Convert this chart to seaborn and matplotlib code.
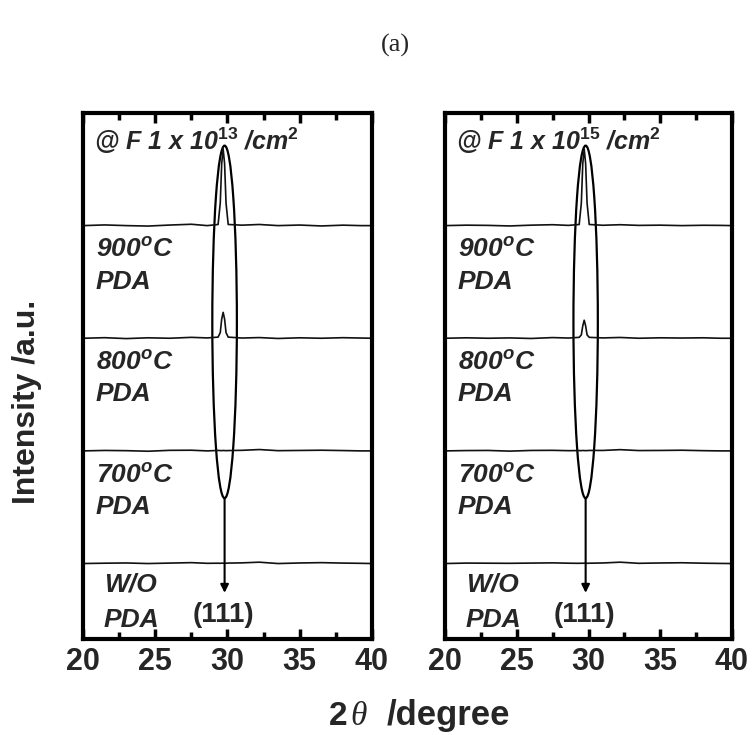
import numpy as np
import pandas as pd
import matplotlib
matplotlib.use("Agg")
import matplotlib.pyplot as plt
import seaborn as sns
from matplotlib.patches import Ellipse
from matplotlib.ticker import MultipleLocator

# ---------------- data ----------------
theta = [20, 21.5, 23, 24.5, 26, 27.5, 28.6, 29.35, 29.5, 29.6, 29.7, 29.8,
         29.9, 30.05, 31, 32.2, 33.5, 35, 36.5, 38, 39.2, 40]

samples = ["900", "800", "700", "W/O"]
sample_offsets = [3.67, 2.67, 1.67, 0.67]

# panel (a)-left : F 1x10^13 /cm^2
left_900 = [0, .006, 0, -.004, .005, .012, 0, .01, .2, .55, .68, .55, .2, .01, .004, .01, 0, .005, -.003, .004, 0, 0]
left_800 = [0, .005, -.003, .004, 0, .008, .003, .01, .05, .17, .23, .17, .05, .01, .002, .006, -.002, .004, 0, .005, .002, 0]
left_700 = [0, .004, .002, -.003, .005, .006, 0, .004, .003, .002, .004, .003, .002, .003, .005, .012, .002, .004, .006, .003, 0, 0]
left_wo = [0, .003, .005, 0, .004, .008, .002, .003, .002, .004, .003, .002, .003, .004, .006, .012, 0, .005, .008, .004, .002, 0]

# panel (a)-right : F 1x10^15 /cm^2
right_900 = [0, .004, .002, -.003, .004, .008, .002, .01, .2, .55, .68, .55, .2, .01, .003, .008, .002, .004, 0, .003, .002, 0]
right_800 = [0, .004, 0, .003, -.002, .006, .002, .008, .03, .11, .16, .11, .03, .008, .003, .007, 0, .004, .002, .004, 0, 0]
right_700 = [0, .003, .004, -.002, .004, .005, .002, .003, .002, .004, .003, .002, .003, .004, .004, .011, .003, .004, .006, .002, 0, 0]
right_wo = [0, .004, .003, .002, .004, .006, .003, .002, .003, .002, .004, .003, .002, .003, .005, .012, .002, .005, .007, .003, .001, 0]

panel_titles = [r"@ F 1 x 10$^{13}$ /cm$^{2}$", r"@ F 1 x 10$^{15}$ /cm$^{2}$"]
panel_series = [[left_900, left_800, left_700, left_wo],
                [right_900, right_800, right_700, right_wo]]
sample_labels = [("900$^{o}$C", "PDA"), ("800$^{o}$C", "PDA"),
                 ("700$^{o}$C", "PDA"), ("W/O", "PDA")]
peak_label = "(111)"
peak_pos = 29.75
xticks = [20, 25, 30, 35, 40]

# ---------------- style ----------------
sns.set_theme(style="white")
plt.rcParams["font.family"] = ["Liberation Sans", "DejaVu Sans"]
plt.rcParams["mathtext.fontset"] = "custom"
plt.rcParams["mathtext.rm"] = "Liberation Sans:bold"
plt.rcParams["mathtext.it"] = "Liberation Sans:italic:bold"
plt.rcParams["mathtext.bf"] = "Liberation Sans:bold"

fig = plt.figure(figsize=(7.53, 7.35), dpi=100)
axes = [fig.add_axes([0.1102, 0.1306, 0.3838, 0.7157]),
        fig.add_axes([0.5910, 0.1306, 0.3811, 0.7157])]

for k, ax in enumerate(axes):
    rows = []
    for name, off, vals in zip(samples, sample_offsets, panel_series[k]):
        for t, v in zip(theta, vals):
            rows.append({"theta": t, "intensity": v + off, "sample": name})
    df = pd.DataFrame(rows)
    sns.lineplot(data=df, x="theta", y="intensity", units="sample",
                 estimator=None, color="#111111", linewidth=1.2, ax=ax,
                 sort=False)
    ax.set_xlim(20, 40)
    ax.set_ylim(0, 4.67)
    ax.set_xlabel("")
    ax.set_ylabel("")
    ax.set_yticks([])
    ax.set_xticks(xticks)
    ax.xaxis.set_minor_locator(MultipleLocator(2.5))
    ax.tick_params(axis="x", which="both", direction="in", top=True,
                   bottom=True, labelsize=22, pad=6, color="black")
    ax.tick_params(axis="x", which="major", length=7, width=2.5)
    ax.tick_params(axis="x", which="minor", length=5, width=2.5)
    for lab in ax.get_xticklabels():
        lab.set_fontweight("bold")
    for sp in ax.spines.values():
        sp.set_visible(True)
        sp.set_linewidth(3)
        sp.set_color("black")

    # title text
    ax.text(20.75, 4.34, panel_titles[k], fontsize=18, fontweight="bold",
            fontstyle="italic", va="baseline", ha="left")
    # sample labels
    for (l1, l2), off in zip(sample_labels, sample_offsets):
        x0 = 21.45 if l1 == "W/O" else 20.9
        ax.text(x0, off - 0.25 if l1 == "W/O" else off - 0.28, l1,
                fontsize=19, fontweight="bold", fontstyle="italic",
                va="baseline", ha="left")
        ax.text(x0, off - 0.56, l2, fontsize=19, fontweight="bold",
                fontstyle="italic", va="baseline", ha="left")

    # ellipse around the (111) peak
    ax.add_patch(Ellipse((peak_pos + 0.05, 2.815), width=1.7, height=3.13,
                         fill=False, edgecolor="black", linewidth=1.6))
    ax.annotate("", xy=(peak_pos + 0.05, 0.41), xytext=(peak_pos + 0.05, 1.25),
                arrowprops=dict(arrowstyle="-|>", color="black", lw=1.5,
                                mutation_scale=12, shrinkA=0, shrinkB=0))
    ax.text(peak_pos, 0.15, peak_label, fontsize=20, fontweight="bold",
            ha="center", va="baseline")

# axis labels
fig.text(27 / 753, 1 - 402 / 735, "Intensity /a.u.", rotation=90,
         fontsize=23, fontweight="bold", ha="center", va="center")
ybase = 1 - 725 / 735
fig.text(329 / 753, ybase, "2", fontsize=24, fontweight="bold",
         ha="left", va="baseline")
fig.text(350 / 753, ybase, "θ", fontsize=24, fontstyle="italic",
         family=["Liberation Serif", "DejaVu Serif"], ha="left", va="baseline")
fig.text(387 / 753, ybase, "/degree", fontsize=25, fontweight="bold",
         ha="left", va="baseline")

# panel tag
fig.text(395 / 753, 1 - 52 / 735, "(a)", fontsize=19,
         family=["Liberation Serif", "DejaVu Serif"], ha="center",
         va="baseline")

fig.savefig("out.png", dpi=100)
